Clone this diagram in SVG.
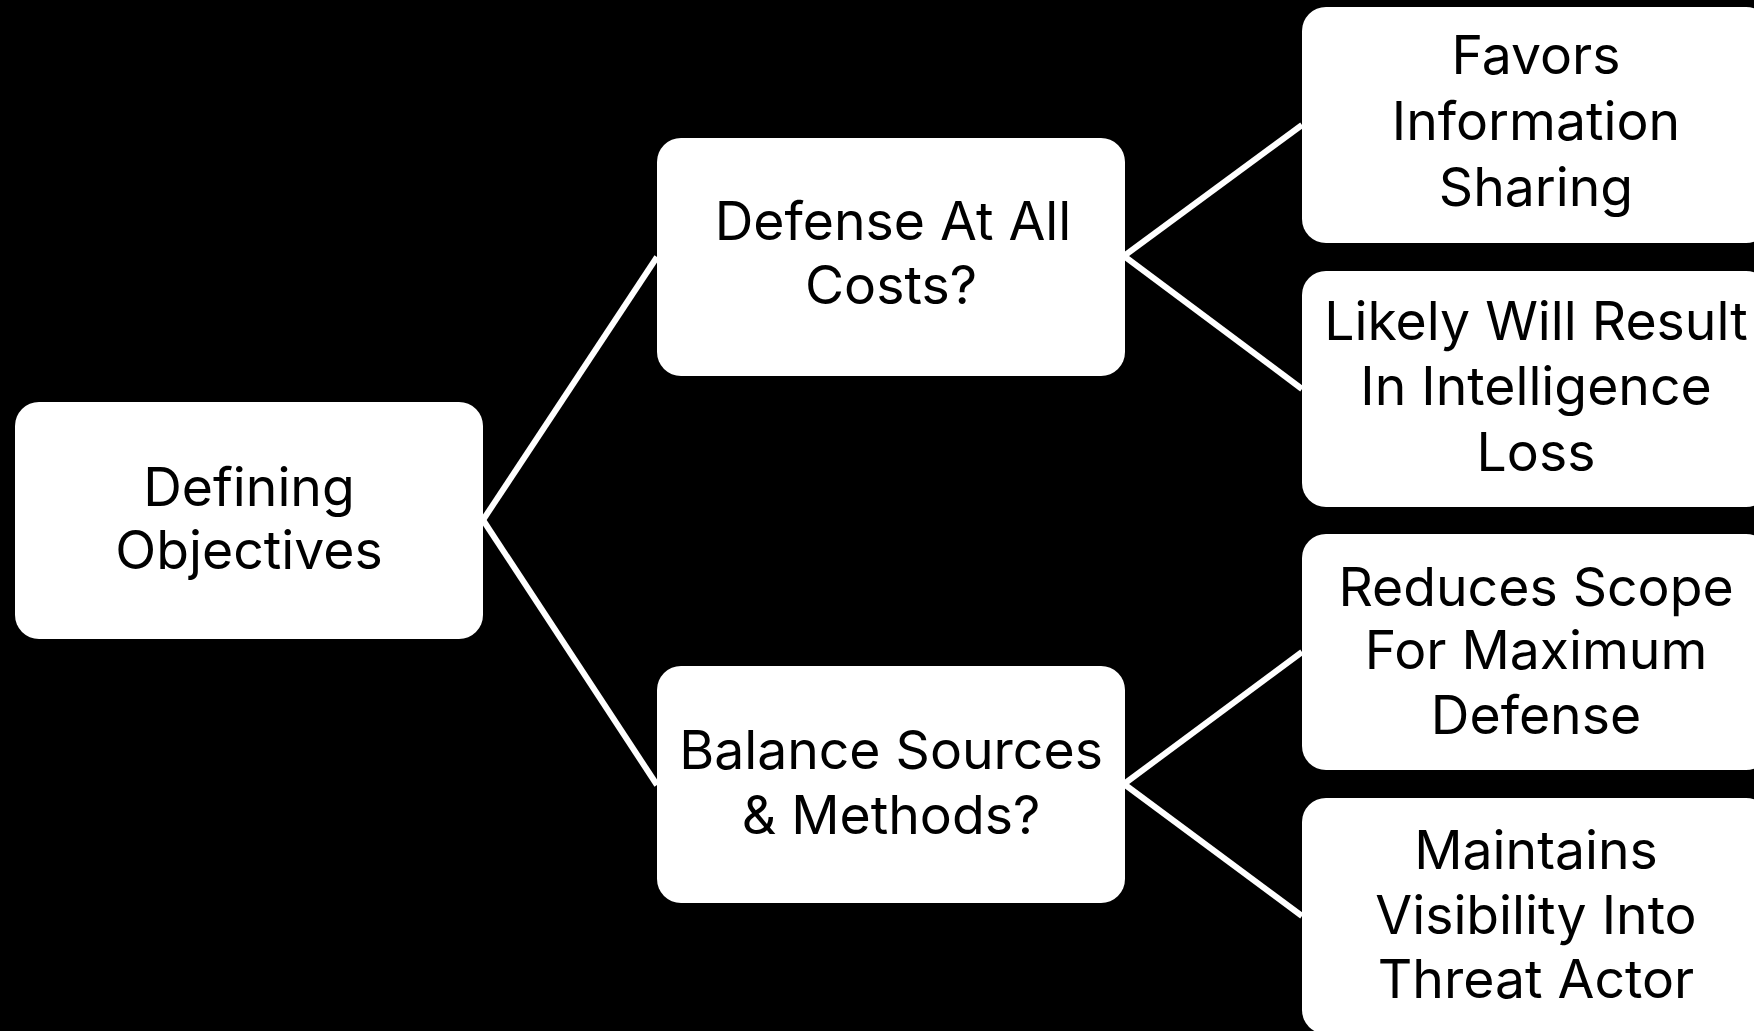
<svg xmlns="http://www.w3.org/2000/svg" width="1754" height="1031" viewBox="0 0 1754 1031">
<style>
.box{fill:#ffffff;}
.lbl{font-family:Inter,"Noto Sans","Liberation Sans",sans-serif;font-size:53.5px;fill:#000000;text-anchor:middle;}
.conn{stroke:#ffffff;stroke-width:6;fill:none;}
</style>
<rect x="0" y="0" width="1754" height="1031" fill="#000000"/>
<g id="connectors">
<line class="conn" x1="483" y1="520" x2="657" y2="257"/>
<line class="conn" x1="483" y1="520" x2="657" y2="785"/>
<line class="conn" x1="1124" y1="256" x2="1302" y2="125"/>
<line class="conn" x1="1124" y1="256" x2="1302" y2="389"/>
<line class="conn" x1="1124" y1="784" x2="1302" y2="652"/>
<line class="conn" x1="1124" y1="784" x2="1302" y2="916"/>
</g>
<g id="n-defining">
<rect class="box" x="15" y="402" width="468" height="237" rx="24"/>
<text class="lbl" x="249" y="506">Defining</text>
<text class="lbl" x="249" y="569">Objectives</text>
</g>
<g id="n-defense">
<rect class="box" x="657" y="138" width="468" height="238" rx="24"/>
<text class="lbl" x="893" y="240">Defense At All</text>
<text class="lbl" x="891" y="304">Costs?</text>
</g>
<g id="n-balance">
<rect class="box" x="657" y="666" width="468" height="237" rx="24"/>
<text class="lbl" x="891" y="769">Balance Sources</text>
<text class="lbl" x="891" y="834">&amp; Methods?</text>
</g>
<g id="n-favors">
<rect class="box" x="1302" y="7" width="468" height="236" rx="24"/>
<text class="lbl" x="1536" y="74">Favors</text>
<text class="lbl" x="1536" y="140">Information</text>
<text class="lbl" x="1536" y="206">Sharing</text>
</g>
<g id="n-likely">
<rect class="box" x="1302" y="271" width="468" height="236" rx="24"/>
<text class="lbl" x="1536" y="340">Likely Will Result</text>
<text class="lbl" x="1536" y="405">In Intelligence</text>
<text class="lbl" x="1536" y="471">Loss</text>
</g>
<g id="n-reduces">
<rect class="box" x="1302" y="534" width="468" height="236" rx="24"/>
<text class="lbl" x="1536" y="606">Reduces Scope</text>
<text class="lbl" x="1536" y="669">For Maximum</text>
<text class="lbl" x="1536" y="734">Defense</text>
</g>
<g id="n-maintains">
<rect class="box" x="1302" y="798" width="468" height="236" rx="24"/>
<text class="lbl" x="1536" y="869">Maintains</text>
<text class="lbl" x="1536" y="934">Visibility Into</text>
<text class="lbl" x="1536" y="998">Threat Actor</text>
</g>
</svg>
